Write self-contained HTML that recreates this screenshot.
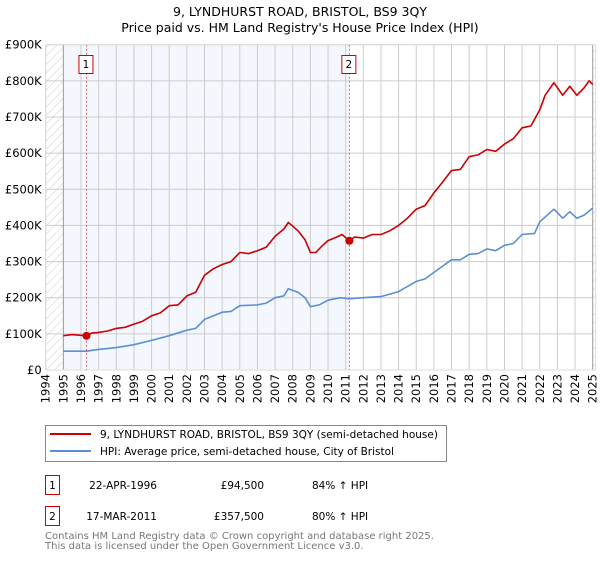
<!DOCTYPE html>
<html><head><meta charset="utf-8"><style>
body{margin:0;background:#fff;font-family:"DejaVu Sans","Liberation Sans",sans-serif;}
svg text{font-family:"DejaVu Sans","Liberation Sans",sans-serif;}
</style></head><body>
<svg id="chart" width="600" height="560" viewBox="0 0 600 560" xmlns="http://www.w3.org/2000/svg">
<defs><pattern id="hatch" width="6" height="6" patternUnits="userSpaceOnUse" patternTransform="rotate(45)"><line x1="0" y1="0" x2="0" y2="6" stroke="#ccc" stroke-width="1"/></pattern></defs>
<text x="300" y="16" text-anchor="middle" font-size="12.5" fill="#000">9, LYNDHURST ROAD, BRISTOL, BS9 3QY</text>
<text x="300" y="32" text-anchor="middle" font-size="12.5" fill="#000">Price paid vs. HM Land Registry's House Price Index (HPI)</text>
<g id="plot"></g>
<rect x="45.5" y="425.5" width="401" height="36" fill="#fff" stroke="#888"/>
<line x1="50" y1="434" x2="91" y2="434" stroke="#cc0000" stroke-width="2"/>
<text x="100" y="438" font-size="10.5">9, LYNDHURST ROAD, BRISTOL, BS9 3QY (semi-detached house)</text>
<line x1="50" y1="451" x2="91" y2="451" stroke="#5b8fd4" stroke-width="2"/>
<text x="100" y="455" font-size="10.5">HPI: Average price, semi-detached house, City of Bristol</text>
<rect x="45.5" y="475.5" width="14" height="19" fill="#fff" stroke="#cc0000"/>
<text x="52.5" y="489" text-anchor="middle" font-size="10.5">1</text>
<text x="157" y="489" text-anchor="end" font-size="10.5">22-APR-1996</text>
<text x="264" y="489" text-anchor="end" font-size="10.5">£94,500</text>
<text x="312" y="489" font-size="10.5">84% ↑ HPI</text>
<rect x="45.5" y="506.5" width="14" height="19" fill="#fff" stroke="#cc0000"/>
<text x="52.5" y="520" text-anchor="middle" font-size="10.5">2</text>
<text x="157" y="520" text-anchor="end" font-size="10.5">17-MAR-2011</text>
<text x="264" y="520" text-anchor="end" font-size="10.5">£357,500</text>
<text x="312" y="520" font-size="10.5">80% ↑ HPI</text>
<text x="45" y="539" font-size="10" fill="#777">Contains HM Land Registry data © Crown copyright and database right 2025.</text>
<text x="45" y="549" font-size="10" fill="#777">This data is licensed under the Open Government Licence v3.0.</text>
</svg>
<script>
const priceYears=[1995,1995.5,1996.3,1996.6,1997,1997.5,1998,1998.5,1999,1999.5,2000,2000.5,2001,2001.5,2002,2002.5,2003,2003.5,2004,2004.5,2005,2005.5,2006,2006.5,2007,2007.5,2007.75,2008,2008.3,2008.7,2009,2009.3,2009.7,2010,2010.5,2010.8,2011.2,2011.5,2012,2012.5,2013,2013.5,2014,2014.5,2015,2015.5,2016,2016.5,2017,2017.5,2018,2018.5,2019,2019.5,2020,2020.5,2021,2021.5,2022,2022.3,2022.8,2023.3,2023.7,2024.1,2024.5,2024.8,2025];
const priceValues=[95,98,94.5,102,104,108,115,118,127,135,150,158,178,180,205,215,262,280,292,300,325,322,330,340,370,390,408,398,385,360,325,325,345,358,368,375,357.5,368,365,375,375,385,400,420,445,455,490,520,552,555,590,595,610,605,625,640,670,675,720,760,795,760,785,760,780,800,790];
const hpiYears=[1995,1996.3,1997,1998,1999,2000,2001,2002,2002.5,2003,2004,2004.5,2005,2006,2006.5,2007,2007.5,2007.75,2008.3,2008.7,2009,2009.5,2010,2010.7,2011.2,2012,2013,2014,2015,2015.5,2016,2017,2017.5,2018,2018.5,2019,2019.5,2020,2020.5,2021,2021.7,2022,2022.8,2023.3,2023.7,2024.1,2024.5,2025];
const hpiValues=[52,52,57,62,70,82,95,110,115,140,160,162,178,180,185,200,205,225,215,200,175,180,193,200,197,200,203,217,245,252,270,305,305,320,322,335,330,345,350,375,378,410,445,420,438,420,428,448];
const yTicks=[0,100,200,300,400,500,600,700,800,900];
const yTickLabels=["£0","£100K","£200K","£300K","£400K","£500K","£600K","£700K","£800K","£900K"];
const xTicks=[1994,1995,1996,1997,1998,1999,2000,2001,2002,2003,2004,2005,2006,2007,2008,2009,2010,2011,2012,2013,2014,2015,2016,2017,2018,2019,2020,2021,2022,2023,2024,2025];
const saleYears=[1996.31,2011.21];
const saleValues=[94.5,357.5];
const saleLabels=["1","2"];

const X0=45.7,X1=592.7,Y0=370,Y1=44.7;
const xs=y=>X0+(y-1994)/(2025-1994)*(X1-X0);
const ys=v=>Y0-v/900*(Y0-Y1);
const NS="http://www.w3.org/2000/svg";
const g=document.getElementById('plot');
function mk(t,a){const e=document.createElementNS(NS,t);for(const k in a)e.setAttribute(k,a[k]);g.appendChild(e);return e;}
let e;
e=mk('rect',{x:X0,y:Y1,width:X1-X0,height:Y0-Y1,fill:'#fff'});


e=mk('rect',{x:xs(1995),y:Y1,width:xs(saleYears[1])-xs(1995),height:Y0-Y1,fill:'#f4f7fe'});


e=mk('rect',{x:X0,y:Y1,width:xs(1995)-X0,height:Y0-Y1,fill:'url(#hatch)'});


e=mk('rect',{x:X1,y:Y1,width:3,height:Y0-Y1,fill:'url(#hatch)'});


yTicks.forEach((v,i)=>{
  e=mk('line',{x1:X0,x2:X1,y1:ys(v),y2:ys(v),stroke:'#ccc','stroke-width':1});
  
  
  e=mk('text',{x:X0-4,y:ys(v)+4,'text-anchor':'end','font-size':11.5});
  e.textContent=yTickLabels[i];
  
  
});
xTicks.forEach(t=>{
  e=mk('line',{x1:xs(t),x2:xs(t),y1:Y1,y2:Y0,stroke:t==1995||t==2025?'#999':'#ccc','stroke-width':1});
  
  
  e=mk('text',{x:0,y:0,'text-anchor':'end','font-size':11.5,transform:`translate(${xs(t)+4},${Y0+4}) rotate(-90)`});
  e.textContent=t;
  
  
});
function path(xa,va,col,name){
  const d=xa.map((x,i)=>(i?'L':'M')+xs(x).toFixed(1)+','+ys(va[i]).toFixed(1)).join('');
  const p=mk('path',{d:d,fill:'none',stroke:col,'stroke-width':1.6,'stroke-linejoin':'round'});
  
  
}
path(hpiYears,hpiValues,'#5b8fd4','hpi-line');
path(priceYears,priceValues,'#cc0000','price-paid-line');
saleYears.forEach((s,i)=>{
  e=mk('line',{x1:xs(s),x2:xs(s),y1:Y1,y2:Y0,stroke:'#e06666','stroke-width':1,'stroke-dasharray':'2,2'});
  
  
  e=mk('circle',{cx:xs(s),cy:ys(saleValues[i]),r:4,fill:'#cc0000'});
  
  
  e=mk('rect',{x:xs(s)-7.5,y:55.5,width:14,height:18,fill:'#fff',stroke:'#cc0000'});
  
  
  e=mk('text',{x:xs(s)-0.5,y:68,'text-anchor':'middle','font-size':10.5});
  e.textContent=saleLabels[i];
  
  
});
e=mk('rect',{x:X0,y:Y1,width:X1-X0+3,height:Y0-Y1,fill:'none',stroke:'#ddd'});


</script>
</body></html>
